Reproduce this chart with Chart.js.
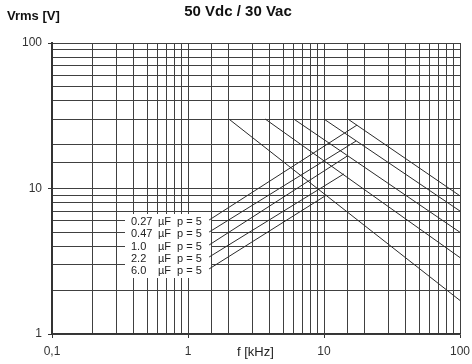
<!DOCTYPE html>
<html>
<head>
<meta charset="utf-8">
<script src="https://cdn.jsdelivr.net/npm/chart.js@4/dist/chart.umd.min.js"></script>
<style>
  html, body { margin: 0; padding: 0; background: #fff; }
</style>
</head>
<body>
<canvas id="chart" width="472" height="364"></canvas>
<script>
// Capacitor ratings shown in the legend box
const capacitance = ['0.27', '0.47', '1.0', '2.2', '6.0'];
const pulseLabel = ['p = 5', 'p = 5', 'p = 5', 'p = 5', 'p = 5'];

// Rated voltage limit: each curve leaves 30 Vrms at its knee frequency
// and falls to the value at 100 kHz
const ratedVrms = 30;
const kneeFreq = [15, 10, 6, 3.7, 2];          // kHz
const endFreq = 100;                            // kHz
const endVrms = [8.9, 7.0, 5.0, 3.35, 1.7];     // Vrms at 100 kHz

// Leader lines from each legend row to its curve
const leaderStartFreq = [1.43, 1.43, 1.43, 1.43, 1.43];
const leaderStartVrms = [6.07, 5.02, 4.09, 3.38, 2.8];
const leaderEndFreq = [17.5, 17.2, 14.8, 14.0, 10.4];
const leaderEndVrms = [27.3, 21.2, 16.7, 12.6, 9.0];

// Decade labels
const xTickValues = [0.1, 1, 10, 100];
const xTickLabels = ['0,1', '1', '10', '100'];
const yTickValues = [1, 10, 100];
const yTickLabels = ['1', '10', '100'];

const FONT = '"Liberation Sans", Arial, sans-serif';
const LINE = '#2a2a2a';
const GRID = '#404040';

const datasets = [];
capacitance.forEach((c, i) => {
  datasets.push({
    label: c + ' µF',
    data: [{ x: kneeFreq[i], y: ratedVrms }, { x: endFreq, y: endVrms[i] }],
    showLine: true, pointRadius: 0, borderColor: LINE, borderWidth: 1, fill: false
  });
});
capacitance.forEach((c, i) => {
  datasets.push({
    label: c + ' µF leader',
    data: [{ x: leaderStartFreq[i], y: leaderStartVrms[i] }, { x: leaderEndFreq[i], y: leaderEndVrms[i] }],
    showLine: true, pointRadius: 0, borderColor: LINE, borderWidth: 1, fill: false
  });
});

function decadeLabel(values, labels) {
  return (v) => {
    const idx = values.findIndex(t => Math.abs(t - v) / t < 1e-6);
    return idx >= 0 ? labels[idx] : '';
  };
}
function isDecade(v) {
  const l = Math.log10(v);
  return Math.abs(l - Math.round(l)) < 1e-6;
}

// White legend box with the capacitor rows, drawn over the grid
const legendBox = {
  id: 'legendBox',
  beforeDatasetsDraw(chart) {
    const { ctx, scales: { y } } = chart;
    ctx.save();
    ctx.fillStyle = '#fff';
    ctx.fillRect(125, 214, 86, 64);
    ctx.fillStyle = '#222';
    ctx.font = '11px ' + FONT;
    ctx.textBaseline = 'middle';
    ctx.textAlign = 'left';
    capacitance.forEach((c, i) => {
      const py = y.getPixelForValue(leaderStartVrms[i]) + 2;
      ctx.fillText(c, 131, py);
      ctx.fillText('µF', 158, py);
      ctx.fillText(pulseLabel[i], 177, py);
    });
    ctx.restore();
  }
};

// Chart title and axis unit captions
const captions = {
  id: 'captions',
  afterDraw(chart) {
    const { ctx } = chart;
    ctx.save();
    ctx.fillStyle = '#111';
    ctx.textBaseline = 'middle';
    ctx.textAlign = 'center';
    ctx.font = 'bold 15px ' + FONT;
    ctx.fillText('50 Vdc / 30 Vac', 238, 12);
    ctx.textAlign = 'left';
    ctx.font = 'bold 13px ' + FONT;
    ctx.fillText('Vrms [V]', 7, 16);
    ctx.font = '13px ' + FONT;
    ctx.fillStyle = '#222';
    ctx.fillText('f [kHz]', 237, 352);
    ctx.restore();
  }
};

new Chart(document.getElementById('chart'), {
  type: 'scatter',
  data: { datasets },
  plugins: [legendBox, captions],
  options: {
    responsive: false,
    animation: false,
    devicePixelRatio: 1,
    layout: { padding: { top: 43, right: 12, left: 0, bottom: 0 } },
    plugins: { legend: { display: false }, tooltip: { enabled: false } },
    scales: {
      x: {
        type: 'logarithmic',
        min: 0.1, max: 100,
        afterFit(s) { s.height = 30; s.paddingRight = 0; s.paddingLeft = 0; },
        border: { display: true, color: '#333', width: 1.5 },
        grid: {
          color: GRID, lineWidth: 1, tickLength: 4,
          tickColor: (c) => (c.tick && isDecade(c.tick.value)) ? '#333' : 'rgba(0,0,0,0)'
        },
        ticks: {
          autoSkip: false, maxRotation: 0, padding: 6,
          color: '#333', font: { family: FONT, size: 12 },
          callback: decadeLabel(xTickValues, xTickLabels)
        }
      },
      y: {
        type: 'logarithmic',
        min: 1, max: 100,
        afterFit(s) { s.width = 52; },
        border: { display: true, color: '#333', width: 2 },
        grid: {
          color: GRID, lineWidth: 1, tickLength: 4,
          tickColor: (c) => (c.tick && isDecade(c.tick.value)) ? '#333' : 'rgba(0,0,0,0)'
        },
        ticks: {
          autoSkip: false, padding: 6,
          color: '#333', font: { family: FONT, size: 12 },
          callback: decadeLabel(yTickValues, yTickLabels)
        }
      }
    }
  }
});
</script>
</body>
</html>
